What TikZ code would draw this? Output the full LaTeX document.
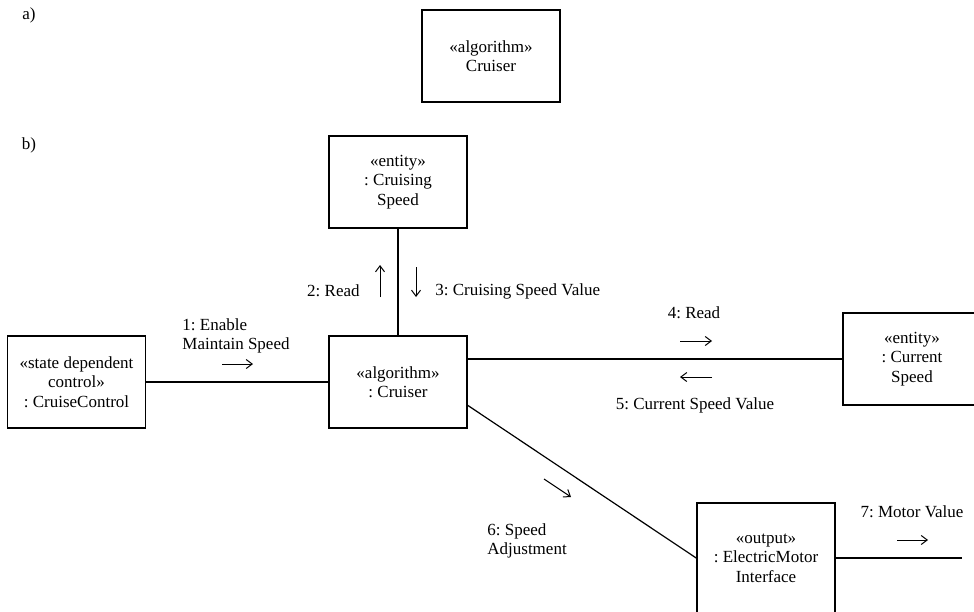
\documentclass[tikz,border=0pt]{standalone}
\usepackage{fontspec}
\setmainfont{Liberation Serif}
\usetikzlibrary{calc, arrows.meta}
\frenchspacing

\begin{document}
\begin{tikzpicture}[x=0.5pt, y=-0.5pt,
        every node/.style={font=\fontsize{8.5}{9.75}\selectfont, inner sep=0pt},
        objbox/.style={draw, line width=0.8pt, minimum width=69pt, minimum height=46pt, align=center, inner sep=1pt},
        msg/.style={-{Straight Barb[length=3pt, width=4.5pt]}, line width=0.5pt},
        link/.style={line width=0.6pt}]
      \fill[white] (0,0) rectangle (974,611);
      \useasboundingbox (0,0) rectangle (974,611);
      \node (lblA) at (29,15) {a)};
      \node (lblB) at (29,145) {b)};
      \node[objbox] (cruA) at (491,56) {«algorithm»\\Cruiser};
      \node[objbox] (speedE) at (398,182) {«entity»\\: Cruising\\Speed};
      \node[objbox] (ctrl) at (76.5,382) {«state dependent\\control»\\: CruiseControl};
      \node[objbox] (cru) at (398,382) {«algorithm»\\: Cruiser};
      \node[objbox] (curE) at (912,359) {«entity»\\: Current\\Speed};
      \node[objbox, minimum height=55pt] (motor) at (766,558) {«output»\\: ElectricMotor\\Interface};
      \coordinate (motorOut) at (962,558);
      \draw[link] (speedE.south) -- (cru.north);
      \draw[link] (ctrl.east) -- (cru.west);
      \draw[link] (cru.east |- curE.west) -- (curE.west);
      \draw[link] ($(cru.east)!0.5!(cru.south east)$) -- (motor.west);
      \draw[link] (motor.east) -- (motorOut);
      \node[anchor=west, align=left] (m1) at (182,336) {1: Enable\\Maintain Speed};
      \draw[msg] (222,364) -- (253,364);
      \node[anchor=east] (m2) at (360,291) {2: Read};
      \draw[msg] (380,297) -- (380,265);
      \node[anchor=west] (m3) at (435,291) {3: Cruising Speed Value};
      \draw[msg] (416,267) -- (416,297);
      \node (m4) at (694,313) {4: Read};
      \draw[msg] (680,341) -- (712,341);
      \draw[msg] (712,377) -- (680,377);
      \node (m5) at (695,405) {5: Current Speed Value};
      \draw[msg] (544,479) -- (571,497);
      \node[anchor=west, align=left] (m6) at (487,541) {6: Speed\\Adjustment};
      \node (m7) at (912,512) {7: Motor Value};
      \draw[msg] (897,540) -- (928,540);
    \end{tikzpicture}
\end{document}
